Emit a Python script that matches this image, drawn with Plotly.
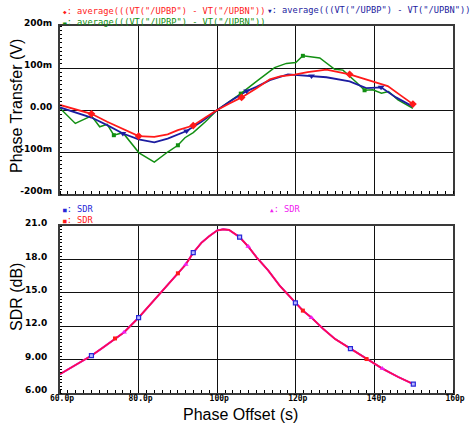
import plotly.graph_objects as go

# ---------------- data ----------------
# top plot (phase transfer, mV) vs phase offset (ps)
red_t = [60, 64, 68, 72, 76, 80, 84, 87.4, 90, 93.9, 97, 100, 103, 106.2, 110, 113.4, 116, 119.7, 123, 127.8, 133.7, 139.6, 143.4, 146.5, 149.8]
red_v = [12, 2, -9, -28, -45, -62, -64, -58, -48, -37, -18, 0, 15, 30, 52, 73, 80, 84, 90, 96, 85, 69, 57, 36, 14]
red_marks = [68, 80, 93.9, 106.2, 133.7, 149.8]

blue_t = [60, 64, 68, 72, 76, 80, 84, 87.4, 92.2, 96, 100, 104, 107.5, 110, 113.4, 118, 124, 127.8, 133.7, 137.9, 141.7, 145.5, 149.8]
blue_v = [6, -6, -18, -36, -56, -70, -77, -68, -50, -28, 0, 25, 45, 55, 71, 85, 81, 78, 68, 52, 54, 30, 8]
blue_marks = [76, 92.2, 107.5, 124, 141.7]

green_t = [60, 63.9, 68, 70.1, 72, 73.7, 76, 80.1, 84, 87.4, 90, 91.8, 93.9, 97, 100, 103, 106, 110, 114.6, 117.6, 120, 121.8, 126.1, 129.9, 132, 135.4, 137.5, 139.6, 141.8, 143.6, 146, 149.8]
green_v = [4, -32, -14, -40, -34, -60, -54, -102, -124, -100, -84, -66, -54, -28, 0, 20, 39, 68, 101, 111, 113, 129, 124, 97, 95, 66, 47, 48, 40, 44, 24, 4]
green_marks = [73.7, 90, 106, 121.8, 137.5]

# bottom plot (SDR, dB)
sdr_t = [60, 64, 68, 71, 74, 76.3, 80, 83, 86, 90, 92, 93.9, 96, 98, 100, 101.5, 103, 105.7, 107.9, 110, 113, 116, 119.9, 121.8, 124, 127, 130, 133.9, 138, 142, 146, 149.9]
sdr_v = [7.7, 8.5, 9.35, 10.1, 10.9, 11.45, 12.77, 13.95, 15.15, 16.75, 17.55, 18.6, 19.5, 20.1, 20.6, 20.7, 20.65, 20.0, 19.15, 18.2, 17.0, 15.6, 14.1, 13.4, 12.77, 11.75, 10.85, 9.98, 9.05, 8.2, 7.45, 6.8]
sdr_blue_marks = [68, 80, 93.9, 105.7, 119.9, 133.9, 149.9]
sdr_red_marks = [74, 90, 121.8, 138]
sdr_mag_marks = [76.3, 92, 107.9, 124, 142]

x_ticks = [60, 80, 100, 120, 140, 160]
x_ticktext = ["60.0p", "80.0p", "100p", "120p", "140p", "160p"]
top_ticks = [-200, -100, 0, 100, 200]
top_ticktext = ["-200m", "-100m", "0.00", "100m", "200m"]
bot_ticks = [6, 9, 12, 15, 18, 21]
bot_ticktext = ["6.00", "9.00", "12.0", "15.0", "18.0", "21.0"]

legend_expr = 'average(((VT("/UPBP") - VT("/UPBN"))'

RED = "#ff1a1a"
BLUE = "#1c1ca0"
GREEN = "#128f12"
MAG = "#f020f0"
SBLUE = "#2828d8"


def subset(ts, vs, marks):
    xs, ys = [], []
    for t, v in zip(ts, vs):
        if t in marks:
            xs.append(t)
            ys.append(v)
    return xs, ys


fig = go.Figure()

# top plot lines
fig.add_trace(go.Scatter(x=green_t, y=green_v, mode="lines", line=dict(color=GREEN, width=1.5), xaxis="x", yaxis="y"))
fig.add_trace(go.Scatter(x=blue_t, y=blue_v, mode="lines", line=dict(color=BLUE, width=1.8), xaxis="x", yaxis="y"))
fig.add_trace(go.Scatter(x=red_t, y=red_v, mode="lines", line=dict(color=RED, width=1.8), xaxis="x", yaxis="y"))
gx, gy = subset(green_t, green_v, green_marks)
fig.add_trace(go.Scatter(x=gx, y=gy, mode="markers", marker=dict(symbol="square", size=4, color=GREEN), xaxis="x", yaxis="y"))
bx, by = subset(blue_t, blue_v, blue_marks)
fig.add_trace(go.Scatter(x=bx, y=by, mode="markers", marker=dict(symbol="triangle-down", size=6, color=BLUE), xaxis="x", yaxis="y"))
rx, ry = subset(red_t, red_v, red_marks)
fig.add_trace(go.Scatter(x=rx, y=ry, mode="markers", marker=dict(symbol="diamond", size=6, color=RED), xaxis="x", yaxis="y"))

# bottom plot
fig.add_trace(go.Scatter(x=sdr_t, y=sdr_v, mode="lines", line=dict(color=SBLUE, width=1.5), xaxis="x2", yaxis="y2"))
fig.add_trace(go.Scatter(x=sdr_t, y=sdr_v, mode="lines", line=dict(color=MAG, width=2), xaxis="x2", yaxis="y2"))
fig.add_trace(go.Scatter(x=sdr_t, y=sdr_v, mode="lines", line=dict(color="#ff0a3c", width=1.6), opacity=0.9, xaxis="x2", yaxis="y2"))
sbx, sby = subset(sdr_t, sdr_v, sdr_blue_marks)
fig.add_trace(go.Scatter(x=sbx, y=sby, mode="markers", marker=dict(symbol="square", size=4, color="#b8b8ff", line=dict(color=SBLUE, width=1.2)), xaxis="x2", yaxis="y2"))
srx, sry = subset(sdr_t, sdr_v, sdr_red_marks)
fig.add_trace(go.Scatter(x=srx, y=sry, mode="markers", marker=dict(symbol="square", size=4, color=RED), xaxis="x2", yaxis="y2"))
smx, smy = subset(sdr_t, sdr_v, sdr_mag_marks)
fig.add_trace(go.Scatter(x=smx, y=smy, mode="markers", marker=dict(symbol="triangle-up", size=5, color=MAG), xaxis="x2", yaxis="y2"))

ytickfont = dict(family="DejaVu Sans", size=9, color="black", weight="bold")
xtickfont = dict(family="DejaVu Sans Mono", size=8, color="black", weight="bold")
axis_common = dict(
    showline=True, linecolor="#3a3a3a", linewidth=2, mirror=True,
    showgrid=True, gridcolor="#111111", gridwidth=1.3,
    zeroline=False, ticks="", automargin=False,
)

# pixel helpers for layout (plot area: x 60..453, y 26..393)
L, R, T, B = 60, 19, 26, 36
W, H = 472, 429
PW, PH = W - L - R, H - T - B


def px(xp):
    return (xp - L) / PW


def py(yp):
    return (H - B - yp) / PH


fig.update_layout(
    width=W, height=H,
    margin=dict(l=L, r=R, t=T, b=B, autoexpand=False),
    paper_bgcolor="white", plot_bgcolor="white",
    showlegend=False,
    xaxis=dict(axis_common, range=[60, 160], tickvals=x_ticks, ticktext=x_ticktext, showticklabels=False,
               anchor="y", domain=[0, 1], tickfont=xtickfont,
               minor=dict(ticks="inside", ticklen=3, tickcolor="black", dtick=2, tick0=60, showgrid=False)),
    yaxis=dict(axis_common, range=[-200, 200], tickvals=top_ticks, ticktext=top_ticktext, anchor="x",
               domain=[py(194), 1], ticklabelstandoff=4, ticklabelshift=-3, tickfont=ytickfont,
               minor=dict(ticks="inside", ticklen=2, tickcolor="black", dtick=10, tick0=0, showgrid=False)),
    xaxis2=dict(axis_common, range=[60, 160], tickvals=x_ticks, ticktext=x_ticktext, anchor="y2",
                domain=[0, 1], ticklabelstandoff=-4, ticklabelshift=2, tickfont=xtickfont,
                minor=dict(ticks="inside", ticklen=3, tickcolor="black", dtick=2, tick0=60, showgrid=False)),
    yaxis2=dict(axis_common, range=[6, 21], tickvals=bot_ticks, ticktext=bot_ticktext, anchor="x2",
                domain=[0, py(226)], ticklabelstandoff=9, ticklabelshift=-3, tickfont=ytickfont,
                minor=dict(ticks="inside", ticklen=2, tickcolor="black", dtick=0.3, tick0=6, showgrid=False)),
)

lfont = dict(family="DejaVu Sans Mono", size=8.7)
ann = []


def label(xp, yp, text, color):
    ann.append(dict(x=px(xp), y=py(yp), xref="paper", yref="paper", xanchor="left", yanchor="middle",
                    align="left", text=text, showarrow=False, font=dict(lfont, color=color)))


sym = lambda s: "<span style='font-size:6px'>" + s + "</span>"
col = lambda c, s: "<span style='color:" + c + "'>" + s + "</span>"
label(61, 16, col(RED, sym("◆") + ": " + legend_expr) + "<br>" + col(GREEN, sym("▬") + ": " + legend_expr), RED)
label(266, 10, sym("▼") + ": " + legend_expr, BLUE)
label(61, 214.5, col(SBLUE, sym("■") + ": SDR") + "<br>" + col(RED, sym("■") + ": SDR"), SBLUE)
label(268, 209, sym("▲") + ": SDR", MAG)

tfont = dict(family="Liberation Sans", size=16, color="black")
ann.append(dict(x=px(16), y=py(106), xref="paper", yref="paper", text="Phase Transfer (V)", textangle=-90,
                showarrow=False, font=tfont, xanchor="center", yanchor="middle"))
ann.append(dict(x=px(16), y=py(297), xref="paper", yref="paper", text="SDR (dB)", textangle=-90,
                showarrow=False, font=tfont, xanchor="center", yanchor="middle"))
ann.append(dict(x=px(240), y=py(414), xref="paper", yref="paper", text="Phase Offset (s)",
                showarrow=False, font=tfont, xanchor="center", yanchor="middle"))
fig.update_layout(annotations=ann)

fig.write_html("out.html")
